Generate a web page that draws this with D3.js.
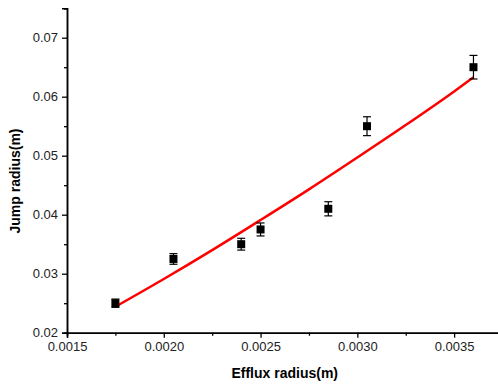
<!DOCTYPE html>
<html>
<head>
<meta charset="utf-8">
<script src="https://cdn.jsdelivr.net/npm/d3@7"></script>
<style>
  body { margin: 0; background: #fff; }
  svg { display: block; }
</style>
</head>
<body>
<svg id="chart" width="498" height="385"></svg>
<script>
// measured points (efflux radius vs jump radius)
const effluxRadius = [0.00175, 0.00205, 0.0024, 0.0025, 0.00285, 0.00305, 0.0036];
const jumpRadius   = [0.0250, 0.0325, 0.0350, 0.0375, 0.0410, 0.0550, 0.0650];
const jumpError    = [0.0007, 0.0009, 0.0010, 0.0011, 0.0012, 0.0016, 0.0020];

// fitted curve
const fitX = [0.00175, 0.0020, 0.00225, 0.0025, 0.00275, 0.0030, 0.00325, 0.0035, 0.0036];
const fitY = [0.0244, 0.0291, 0.0340, 0.0391, 0.0443, 0.0497, 0.0552, 0.0609, 0.0633];

const xTicks = [0.0015, 0.0020, 0.0025, 0.0030, 0.0035];
const xMinor = [0.00175, 0.00225, 0.00275, 0.00325, 0.00375];
const yTicks = [0.02, 0.03, 0.04, 0.05, 0.06, 0.07];
const yMinor = [0.025, 0.035, 0.045, 0.055, 0.065, 0.075];

const svg = d3.select("#chart");
const plotL = 67, plotB = 332.7, plotT = 8.2, plotR = 502.5;

const x = d3.scaleLinear().domain([0.0015, 0.00375]).range([plotL, plotR]);
const y = d3.scaleLinear().domain([0.02, 0.075]).range([plotB, plotT]);

function styleAxis(g) {
    g.selectAll("path").attr("stroke", "#000").attr("stroke-width", 1.5);
    g.selectAll("line").attr("stroke", "#000").attr("stroke-width", 1.3);
    g.selectAll("text")
        .style("font-family", "Arial, 'Liberation Sans', sans-serif")
        .style("font-size", "13px")
        .attr("fill", "#222");
}

// minor ticks
svg.append("g")
    .attr("transform", `translate(0,${plotB})`)
    .call(d3.axisBottom(x).tickValues(xMinor).tickSize(3).tickFormat(""))
    .call(styleAxis);
svg.append("g")
    .attr("transform", `translate(${plotL},0)`)
    .call(d3.axisLeft(y).tickValues(yMinor).tickSize(3).tickFormat(""))
    .call(styleAxis);

// major ticks
svg.append("g")
    .attr("transform", `translate(0,${plotB})`)
    .call(d3.axisBottom(x).tickValues(xTicks).tickSize(5).tickPadding(4).tickFormat(d3.format(".4f")))
    .call(styleAxis);
svg.append("g")
    .attr("transform", `translate(${plotL},0)`)
    .call(d3.axisLeft(y).tickValues(yTicks).tickSize(5).tickPadding(4).tickFormat(d3.format(".2f")))
    .call(styleAxis);

// axis titles
svg.append("text")
    .attr("x", (plotL + plotR) / 2)
    .attr("y", 378)
    .attr("text-anchor", "middle")
    .style("font-family", "Arial, 'Liberation Sans', sans-serif")
    .style("font-size", "14px")
    .style("font-weight", "bold")
    .text("Efflux radius(m)");
svg.append("text")
    .attr("transform", "translate(20,181) rotate(-90)")
    .attr("text-anchor", "middle")
    .style("font-family", "Arial, 'Liberation Sans', sans-serif")
    .style("font-size", "14px")
    .style("font-weight", "bold")
    .text("Jump radius(m)");

// fit line
const fitData = fitX.map((d, i) => [d, fitY[i]]);
svg.append("path")
    .datum(fitData)
    .attr("fill", "none")
    .attr("stroke", "#ff0000")
    .attr("stroke-width", 2.5)
    .attr("d", d3.line().x(d => x(d[0])).y(d => y(d[1])).curve(d3.curveMonotoneX));

// error bars and squares
const pts = effluxRadius.map((d, i) => ({ x: d, y: jumpRadius[i], e: jumpError[i] }));
const g = svg.append("g");
pts.forEach(p => {
    const cx = x(p.x);
    const y1 = y(p.y + p.e), y2 = y(p.y - p.e);
    g.append("line").attr("x1", cx).attr("x2", cx).attr("y1", y1).attr("y2", y2)
        .attr("stroke", "#000").attr("stroke-width", 1.2);
    [y1, y2].forEach(yy => {
        g.append("line").attr("x1", cx - 4).attr("x2", cx + 4).attr("y1", yy).attr("y2", yy)
            .attr("stroke", "#000").attr("stroke-width", 1.2);
    });
    g.append("rect")
        .attr("x", cx - 4).attr("y", y(p.y) - 4)
        .attr("width", 8).attr("height", 8)
        .attr("fill", "#000");
});
</script>
</body>
</html>
